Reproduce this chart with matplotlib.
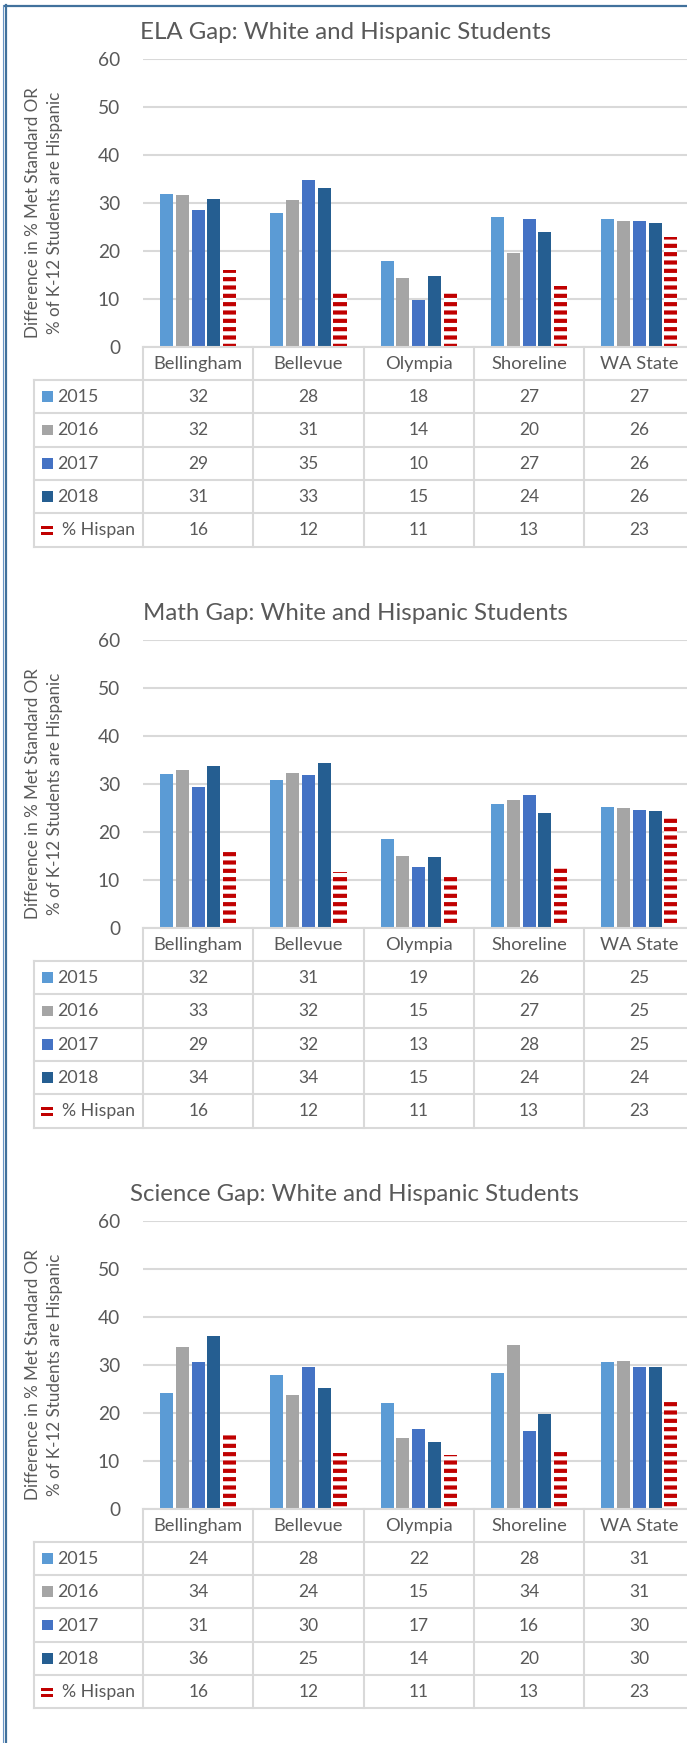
import numpy as np
import matplotlib
matplotlib.use('Agg')
import matplotlib.pyplot as plt
from matplotlib.patches import Rectangle
from matplotlib.textpath import TextPath
from matplotlib.font_manager import FontProperties

plt.rcParams['font.family'] = ['Lato', 'DejaVu Sans']
plt.rcParams['hatch.linewidth'] = 3.0

W, H, DPI = 687, 1743, 100

# ---------------- data ----------------
categories = ['Bellingham', 'Bellevue', 'Olympia', 'Shoreline', 'WA State']
series_names = ['2015', '2016', '2017', '2018', '% Hispan']
hispanic = [16.0, 11.6, 11.2, 12.6, 22.8]

ela_2015 = [31.8, 27.8, 17.9, 27.0, 26.6]
ela_2016 = [31.6, 30.6, 14.3, 19.6, 26.3]
ela_2017 = [28.6, 34.7, 9.8, 26.7, 26.3]
ela_2018 = [30.8, 33.2, 14.7, 23.9, 25.7]

math_2015 = [32.1, 30.9, 18.6, 25.9, 25.2]
math_2016 = [32.9, 32.2, 15.0, 26.6, 25.0]
math_2017 = [29.3, 31.8, 12.6, 27.6, 24.6]
math_2018 = [33.7, 34.4, 14.7, 23.9, 24.3]

sci_2015 = [24.0, 27.8, 21.9, 28.3, 30.6]
sci_2016 = [33.7, 23.6, 14.6, 34.2, 30.8]
sci_2017 = [30.6, 29.6, 16.6, 16.2, 29.6]
sci_2018 = [35.9, 25.1, 13.9, 19.8, 29.6]

titles = ['ELA Gap: White and Hispanic Students',
          'Math Gap: White and Hispanic Students',
          'Science Gap: White and Hispanic Students']
y_ticks = [0, 10, 20, 30, 40, 50, 60]
ylabel_lines = ['Difference in % Met Standard OR',
                '% of K-12 Students are Hispanic']

panels = [
    [ela_2015, ela_2016, ela_2017, ela_2018, hispanic],
    [math_2015, math_2016, math_2017, math_2018, hispanic],
    [sci_2015, sci_2016, sci_2017, sci_2018, hispanic],
]

# ---------------- style ----------------
colors = ['#5B9BD5', '#A5A5A5', '#4472C4', '#255E91', '#C00000']
grid_c = '#D9D9D9'
text_c = '#595959'
border_c = '#41719C'

panel_dy = [0, 581, 1161.8]
title_cx = [346, 355, 355]
plot_left, cat_w = 143, 110.3
plot_top, plot_bot = 59, 346.7
row_h = 33.33
header_bot = 380

fig = plt.figure(figsize=(W / DPI, H / DPI), dpi=DPI)
renderer = fig.canvas.get_renderer()
fp = FontProperties(family='Lato')


def fit(text, target, **kw):
    t = fig.text(0, 0, text, fontsize=20, **kw)
    w = t.get_window_extent(renderer).width
    t.remove()
    return 20 * target / w


def fit_h(text, target_px):
    tp = TextPath((0, 0), text, size=1, prop=fp)
    h = tp.get_extents().height
    return target_px / h * 72 / DPI


title_fs = fit(titles[0], 412)
tick_fs = fit_h('60', 14.0)
ylab_fs = fit(ylabel_lines[0], 252)
cat_fs = fit('Bellingham', 89)
num_fs = fit_h('32', 12.7)
leg_fs = min(fit_h('2015', 13.5), fit('% Hispan', 73))

ov = fig.add_axes([0, 0, 1, 1])
ov.set_xlim(0, W)
ov.set_ylim(H, 0)
ov.axis('off')
ov.set_zorder(5)
ov.patch.set_alpha(0)

right = plot_left + 5 * cat_w
x = np.arange(len(categories))
step, bw = 0.143, 0.118

for p, (vals, dy) in enumerate(zip(panels, panel_dy)):
    ax = fig.add_axes([plot_left / W, 1 - (plot_bot + dy) / H,
                       (right - plot_left) / W, (plot_bot - plot_top) / H])
    ax.set_xlim(-0.5, len(categories) - 0.5)
    ax.set_ylim(0, 60)
    for i, (name, v) in enumerate(zip(series_names, vals)):
        off = (i - 2) * step
        if i < 4:
            ax.bar(x + off, v, width=bw, color=colors[i], linewidth=0, zorder=3)
        else:
            ax.bar(x + off, v, width=bw, facecolor='white', edgecolor=colors[i],
                   hatch='--', linewidth=0, zorder=3)
    ax.set_yticks(y_ticks)
    ax.set_xticks([])
    ax.yaxis.grid(True, color=grid_c, linewidth=1.5)
    ax.set_axisbelow(True)
    for s in ax.spines.values():
        s.set_visible(False)
    ax.tick_params(axis='y', length=0, pad=(plot_left - 120) / DPI * 72,
                   labelsize=tick_fs, labelcolor=text_c)
    ax.patch.set_alpha(0)

    # title
    ov.text(title_cx[p], 39.3 + dy, titles[p], ha='center', va='baseline',
            fontsize=title_fs, color=text_c)
    # y label (two lines)
    ov.text(33.5, 213 + dy, ylabel_lines[0], rotation=90, ha='center',
            va='center', fontsize=ylab_fs, color=text_c)
    ov.text(55.5, 213 + dy, ylabel_lines[1], rotation=90, ha='center',
            va='center', fontsize=ylab_fs, color=text_c)

    # table
    top = plot_bot + dy
    hb = header_bot + dy
    rows_y = [hb + k * row_h for k in range(6)]
    lw = 1.5
    ov.plot([plot_left, right], [top, top], color=grid_c, lw=lw)
    for k in range(6):
        xx = plot_left + k * cat_w
        ov.plot([xx, xx], [top, rows_y[-1]], color=grid_c, lw=lw)
    ov.plot([34, 34], [hb, rows_y[-1]], color=grid_c, lw=lw)
    for yy in rows_y:
        ov.plot([34, right], [yy, yy], color=grid_c, lw=lw)
    for k, c in enumerate(categories):
        ov.text(plot_left + (k + 0.5) * cat_w, (top + hb) / 2 + 0.5, c,
                ha='center', va='center', fontsize=cat_fs, color=text_c)
    for i, (name, v) in enumerate(zip(series_names, vals)):
        cy = (rows_y[i] + rows_y[i + 1]) / 2
        if i < 4:
            ov.add_patch(Rectangle((42.2, cy - 5.3), 10.6, 10.6, color=colors[i],
                                   linewidth=0))
            ov.text(57.5, cy + 0.5, name, ha='left', va='center',
                    fontsize=leg_fs, color=text_c)
        else:
            ov.add_patch(Rectangle((41, cy - 4), 11.7, 3.2, color=colors[i],
                                   linewidth=0))
            ov.add_patch(Rectangle((41, cy + 2), 11.7, 3.2, color=colors[i],
                                   linewidth=0))
            ov.text(61.7, cy + 0.5, name, ha='left', va='center',
                    fontsize=leg_fs, color=text_c)
        for k, val in enumerate(v):
            ov.text(plot_left + (k + 0.5) * cat_w, cy + 0.5, f'{val:.0f}',
                    ha='center', va='center', fontsize=num_fs, color=text_c)

# border of the surrounding box
ov.plot([2.5, 2.5], [5, H], color='#6A94C4', lw=0.8)
ov.plot([6, 6], [5, H], color=border_c, lw=1.6)
ov.plot([5, W], [6, 6], color=border_c, lw=1.6)

fig.savefig('out.png', dpi=DPI)
